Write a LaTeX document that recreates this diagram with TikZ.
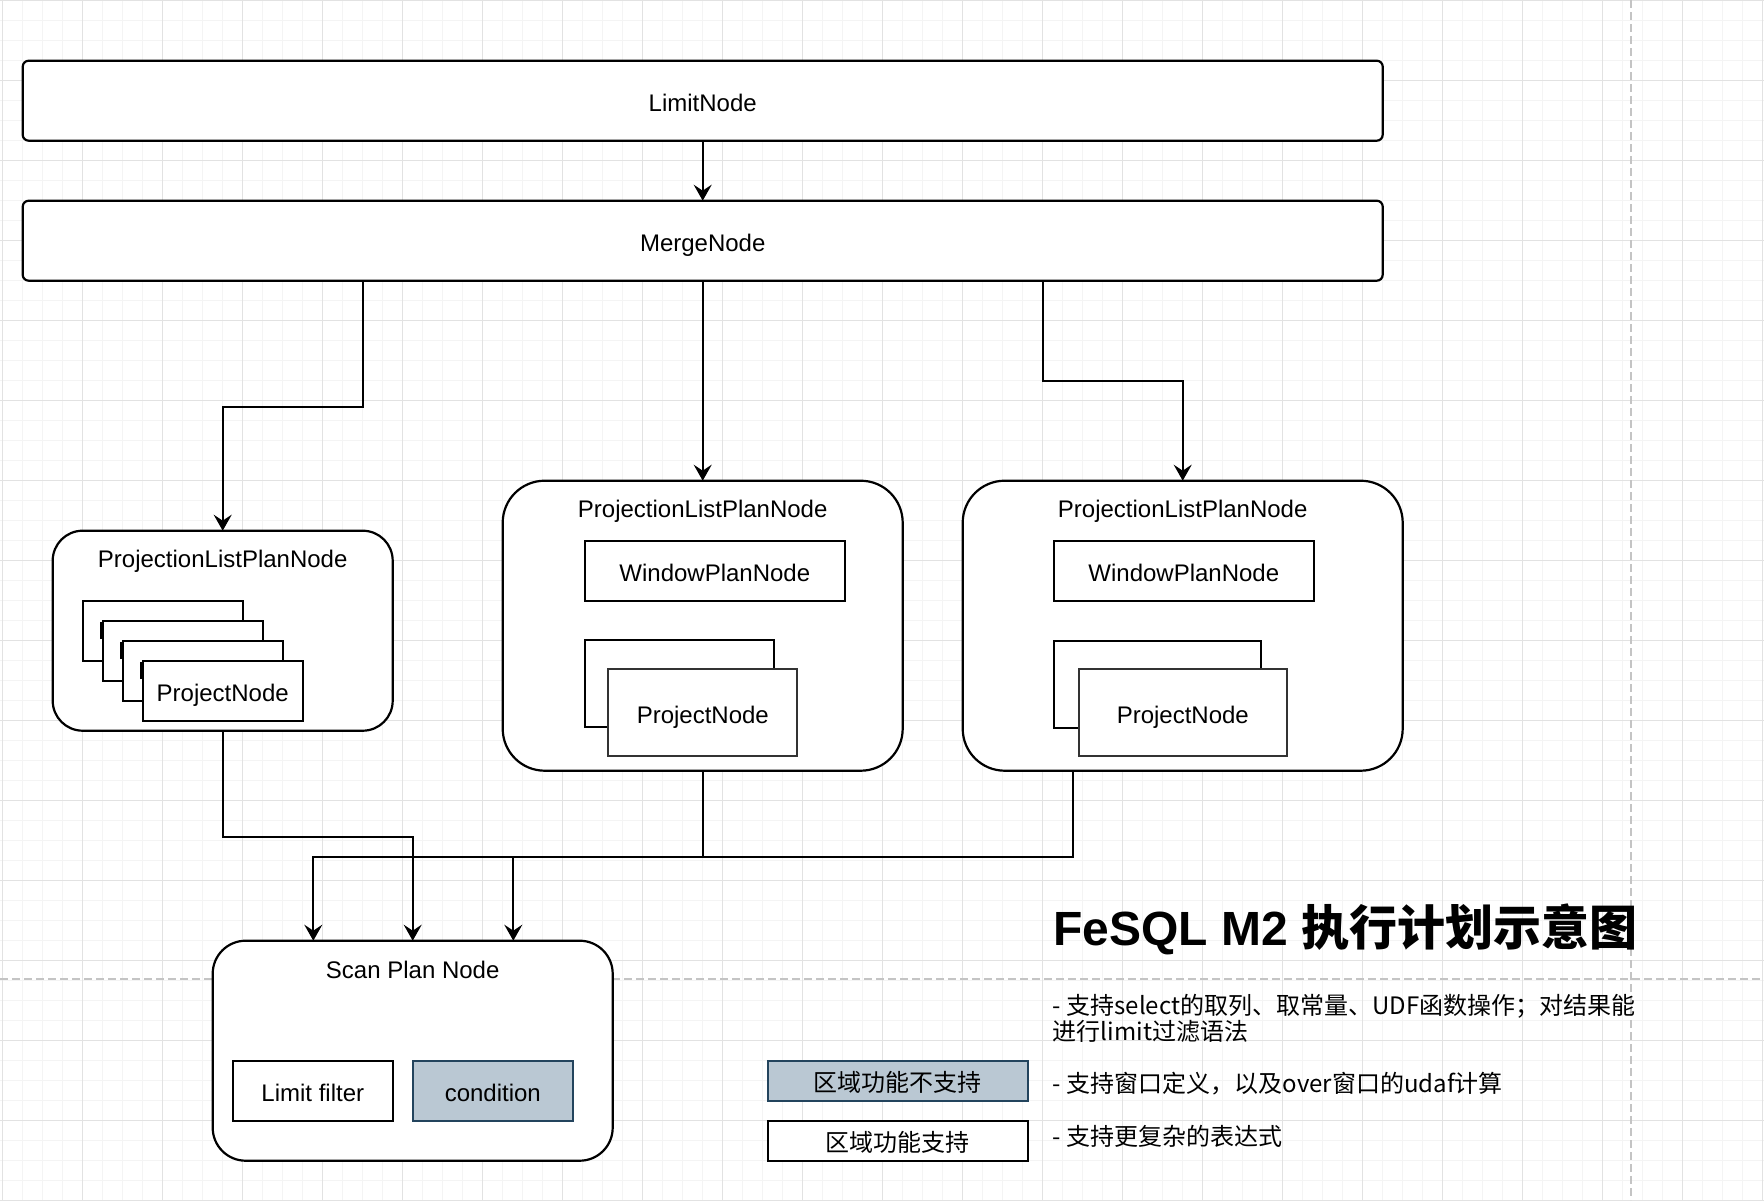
\documentclass[tikz,border=0pt]{standalone}
\usepackage{fontspec}
\setmainfont{Liberation Sans}
\newfontfamily\cjk{Noto Sans CJK SC}
\usetikzlibrary{arrows.meta}
\definecolor{gridminor}{HTML}{F4F4F4}
\definecolor{gridmajor}{HTML}{E2E2E2}
\definecolor{pagebreak}{HTML}{C4C4C4}
\definecolor{offfill}{HTML}{BAC8D3}
\definecolor{offline}{HTML}{23445D}
\tikzset{
  label text/.style={text height=10.6pt, text depth=0pt},
  planbox/.style={draw, fill=white, line width=1.1pt, inner sep=0pt, outer sep=0pt, label text},
  blockbox/.style={planbox, rounded corners=3pt, minimum width=680pt, minimum height=40pt},
  cell/.style={draw, fill=white, line width=1pt, inner sep=0pt, outer sep=0pt, label text},
  offcell/.style={cell, fill=offfill, draw=offline},
  boxtitle/.style={inner sep=0pt, label text},
  note/.style={inner sep=0pt, anchor=west, align=left, font=\cjk\fontsize{12}{13.35}\selectfont},
  flow/.style={line width=1.1pt, -{Stealth[length=8pt, width=9pt, inset=3pt]}},
  wire/.style={line width=1.1pt},
}

\begin{document}
\begin{tikzpicture}[x=0.5pt, y=-0.5pt, font=\fontsize{12}{14}\selectfont]
  \useasboundingbox (0,0) rectangle (1764,1200);
  \fill[white] (0,0) rectangle (1764,1200);
  % grid
  \foreach \gx in {2.7,22.7,...,1762.7}
    \draw[gridminor, line width=0.5pt] (\gx,0) -- (\gx,1200);
  \foreach \gy in {0,20,...,1200}
    \draw[gridminor, line width=0.5pt] (0,\gy) -- (1764,\gy);
  \foreach \gx in {2.7,82.7,...,1762.7}
    \draw[gridmajor, line width=0.5pt] (\gx,0) -- (\gx,1200);
  \foreach \gy in {0,80,...,1200}
    \draw[gridmajor, line width=0.5pt] (0,\gy) -- (1764,\gy);
  \draw[pagebreak, line width=0.6pt, dash pattern=on 4pt off 2pt] (1631,0) -- (1631,1200);
  \draw[pagebreak, line width=0.6pt, dash pattern=on 4pt off 2pt] (0,979) -- (1764,979);

  % top blocks
  \node[blockbox] (limit) at (702.7,100.7) {LimitNode};
  \node[blockbox] (merge) at (702.7,240.7) {MergeNode};

  % projection list plan nodes
  \node[planbox, rounded corners=15pt, minimum width=170pt, minimum height=100pt] (pleft) at (222.7,630.7) {};
  \node[planbox, rounded corners=21pt, minimum width=200pt, minimum height=145pt] (pmid) at (702.7,625.7) {};
  \node[planbox, rounded corners=21pt, minimum width=220pt, minimum height=145pt] (pright) at (1182.7,625.7) {};
  \node[boxtitle] (pleft-title) at (222.7,556.7) {ProjectionListPlanNode};
  \node[boxtitle] (pmid-title) at (702.7,506.7) {ProjectionListPlanNode};
  \node[boxtitle] (pright-title) at (1182.7,506.7) {ProjectionListPlanNode};

  % stacked project nodes
  \node[cell, minimum width=80pt, minimum height=30pt] (lstack1) at (162.7,630.7) {};
  \node[cell, minimum width=80pt, minimum height=30pt] (lstack2) at (182.7,650.7) {};
  \node[cell, minimum width=80pt, minimum height=30pt] (lstack3) at (202.7,670.7) {};
  \node[cell, minimum width=80pt, minimum height=30pt] (lproject) at (222.7,690.7) {ProjectNode};
  \draw[line width=1.5pt] (101.5,622) -- (101.5,639);
  \draw[line width=1.5pt] (121.5,642) -- (121.5,659);
  \draw[line width=1.5pt] (141.5,662) -- (141.5,679);

  \node[cell, minimum width=130pt, minimum height=30pt] (mwindow) at (714.8,570.7) {WindowPlanNode};
  \node[cell, minimum width=94.5pt, minimum height=43.5pt] (mstack) at (679.3,683.7) {};
  \node[cell, draw=black!80, minimum width=94.5pt, minimum height=43.5pt] (mproject) at (702.8,712.7) {ProjectNode};

  \node[cell, minimum width=130pt, minimum height=30pt] (rwindow) at (1183.8,570.7) {WindowPlanNode};
  \node[cell, minimum width=103.7pt, minimum height=43.5pt] (rstack) at (1157.3,684) {};
  \node[cell, draw=black!80, minimum width=103.7pt, minimum height=43.5pt] (rproject) at (1182.8,712.7) {ProjectNode};

  % scan plan node
  \node[planbox, rounded corners=16.5pt, minimum width=200pt, minimum height=110pt] (scan) at (412.7,1050.7) {};
  \node[boxtitle] (scan-title) at (412.7,967.5) {Scan Plan Node};
  \node[cell, minimum width=80pt, minimum height=30pt] (limitfilter) at (312.8,1090.8) {Limit filter};
  \node[offcell, minimum width=80pt, minimum height=30pt] (condition) at (492.8,1090.8) {condition};

  % connectors
  \draw[flow] (limit) -- (merge);
  \draw[flow] ([xshift=-170pt]merge.south) -- ++(0,126) -| (pleft.north);
  \draw[flow] (merge) -- (pmid);
  \draw[flow] ([xshift=170pt]merge.south) -- ++(0,100) -| (pright.north);

  \coordinate (scanL) at ([xshift=-49.7pt]scan.north);
  \coordinate (scanR) at ([xshift=50.3pt]scan.north);
  \draw[flow] (pleft.south) -- ++(0,106) -| (scan.north);
  \draw[wire] (pmid.south) -- ++(0,86) coordinate (busmid);
  \draw[wire] ([xshift=-54.7pt]pright.south) |- (busmid);
  \draw[flow] (busmid) -| (scanL);
  \draw[flow] (busmid -| scanR) -- (scanR);

  % legend
  \node[offcell, minimum width=130pt, minimum height=20pt, font=\cjk\fontsize{12}{14}\selectfont] (legend-off) at (897.8,1080.8) {区域功能不支持};
  \node[cell, minimum width=130pt, minimum height=20pt, font=\cjk\fontsize{12}{14}\selectfont] (legend-on) at (897.8,1140.7) {区域功能支持};

  % title and notes
  \node[inner sep=0pt, anchor=base west, font=\bfseries\fontsize{24}{28}\selectfont] (headline) at (1053,945) {FeSQL M2 {\cjk\bfseries 执行计划示意图}};
  \node[note] (note-select) at (1052.5,1018.3) {- 支持select的取列、取常量、UDF函数操作；对结果能\\进行limit过滤语法};
  \node[note] (note-window) at (1052.5,1084) {- 支持窗口定义，以及over窗口的udaf计算};
  \node[note] (note-expr) at (1052.5,1136.7) {- 支持更复杂的表达式};
\end{tikzpicture}
\end{document}
